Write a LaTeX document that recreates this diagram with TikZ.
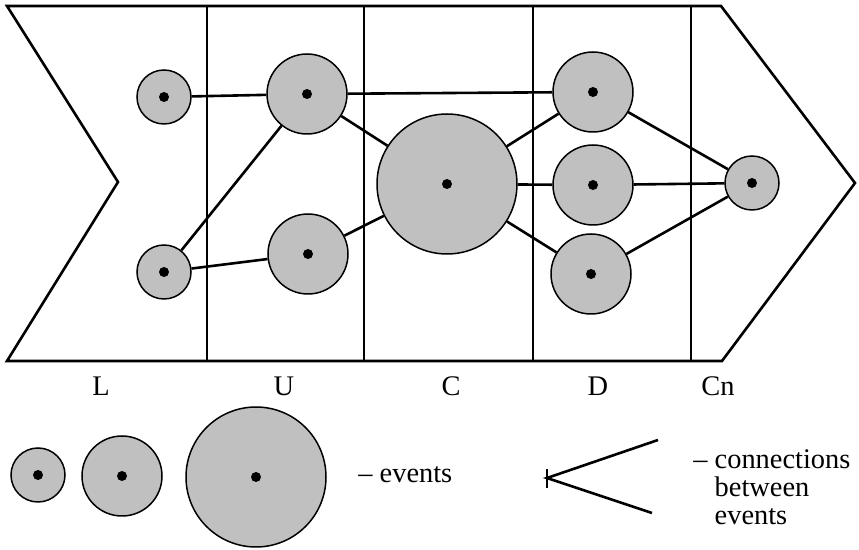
\documentclass[tikz,border=0pt]{standalone}
\usepackage{fontspec}
\setmainfont{Liberation Serif}
\definecolor{evgray}{RGB}{192,192,192}
\begin{document}
\begin{tikzpicture}[x=0.5pt,y=-0.5pt,
  frame/.style={line width=1.3pt, line join=miter},
  conn/.style={line width=1.3pt},
  event/.style={circle, draw, line width=0.75pt, fill=evgray, inner sep=0pt,
    path picture={\fill[black] (path picture bounding box.center) circle (2.5pt);}},
  small/.style={event, minimum size=27pt},
  medium/.style={event, minimum size=40pt},
  large/.style={event, minimum size=70pt},
  lbl/.style={font=\fontsize{14.2pt}{14pt}\selectfont, inner sep=0pt, anchor=base}
]
\useasboundingbox (0,0) rectangle (859,550);
% outer shape
\draw[frame] (7,6) -- (721,6) -- (855,183) -- (722,361) -- (7,361) -- (118,182) -- cycle;
\foreach \x in {207,364,533,691} \draw[frame] (\x,6) -- (\x,361);
% events
\node[small]  (L1) at (164,97) {};
\node[small]  (L2) at (164,272) {};
\node[medium] (U1) at (307,94) {};
\node[medium] (U2) at (308,254) {};
\node[large]  (C)  at (447,184) {};
\node[medium] (D1) at (593,92) {};
\node[medium] (D2) at (593,185) {};
\node[medium] (D3) at (591,274) {};
\node[small]  (Cn) at (752,183) {};
% connections
\draw[conn] (L1) -- (U1);
\draw[conn] (L2) -- (U1);
\draw[conn] (L2) -- (U2);
\draw[conn] (U1) -- (D1);
\draw[conn] (U1) -- (C);
\draw[conn] (U2) -- (C);
\draw[conn] (C) -- (D1);
\draw[conn] (C) -- (D2);
\draw[conn] (C) -- (D3);
\draw[conn] (D1) -- (Cn);
\draw[conn] (D2) -- (Cn);
\draw[conn] (D3) -- (Cn);
% column labels
\node[lbl] (tL)  at (101,396) {L};
\node[lbl] (tU)  at (284,396) {U};
\node[lbl] (tC)  at (451,396) {C};
\node[lbl] (tD)  at (598,396) {D};
\node[lbl] (tCn) at (718,396) {Cn};
% legend
\node[small]  (e1) at (38,475) {};
\node[medium] (e2) at (122,476) {};
\node[large]  (e3) at (256,477) {};
\node[lbl, anchor=base west] (tev) at (358,483) {– events};
\coordinate (v) at (547,478);
\coordinate (va) at (658,440);
\coordinate (vb) at (652,513);
\coordinate (t1) at (547,469);
\coordinate (t2) at (547,488);
\draw[conn] (va) -- (v) -- (vb);
\draw[conn] (t1) -- (t2);
\node[lbl, anchor=base west, align=left] (tcon) at (693,525) {– connections\\\phantom{– }between\\\phantom{– }events};
\end{tikzpicture}
\end{document}
